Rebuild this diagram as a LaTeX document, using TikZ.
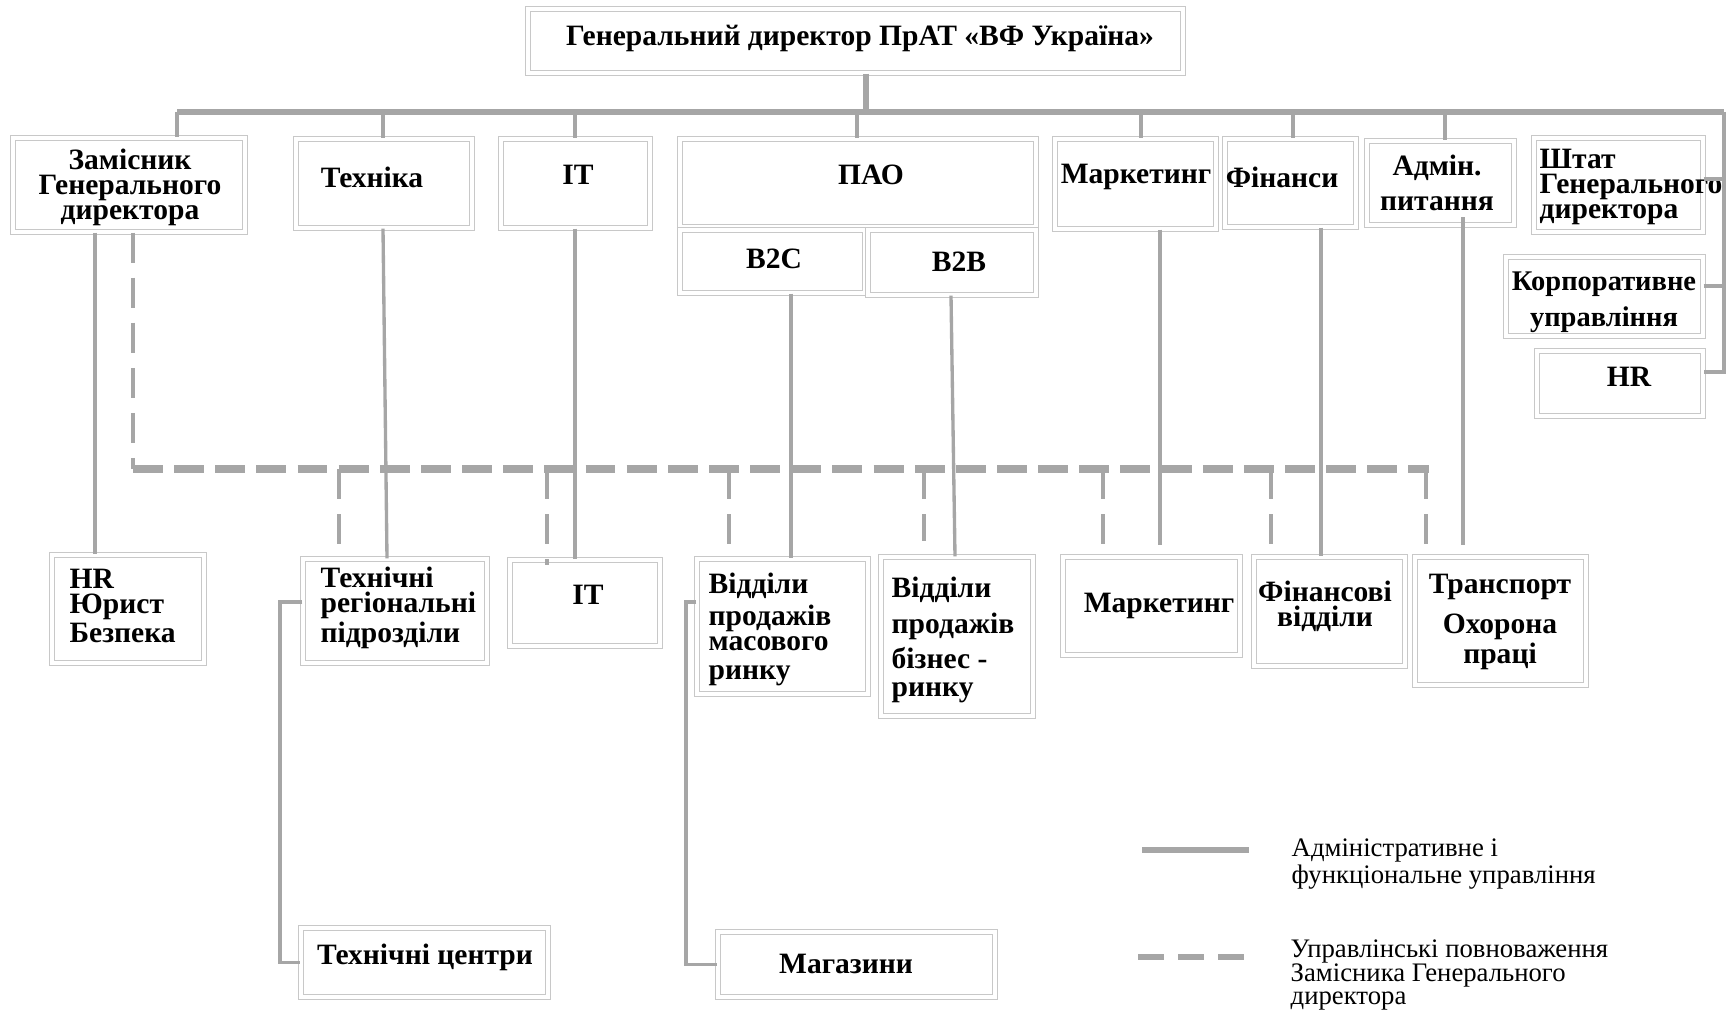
\documentclass[tikz,border=0pt]{standalone}
\usepackage{fontspec}
\setmainfont{Liberation Serif}
\usetikzlibrary{fit}

\definecolor{linegray}{HTML}{A6A6A6}
\definecolor{boxgray}{HTML}{C8C8C8}

\tikzset{
  box/.style={draw=boxgray, double=white, double distance=0.9pt, line width=0.4pt, inner sep=0pt},
  lbl/.style={font=\fontsize{8.4}{7.1}\selectfont\bfseries, inner sep=0pt, align=center},
  lbll/.style={lbl, align=left, anchor=west},
  adm/.style={draw=linegray, line width=0.95pt},
  bus/.style={draw=linegray, line width=1.6pt},
  dep/.style={draw=linegray, line width=1.1pt, dash pattern=on 8.5pt off 4.3pt},
  deptrunk/.style={draw=linegray, line width=2.2pt, dash pattern=on 8.5pt off 3.2pt},
  legtxt/.style={font=\fontsize{7.6}{6.8}\selectfont, inner sep=0pt, align=left, anchor=west}
}

\begin{document}
\begin{tikzpicture}[x=0.01cm, y=-0.01cm]
  \useasboundingbox (0,0) rectangle (1733,1011);

  % top
  \node[box, fit={(528,9) (1183,73)}] (gd) {};
  \node[lbl] (gd-t) at (860,38) {Генеральний директор ПрАТ «ВФ Україна»};

  % first row
  \node[box, fit={(13,138) (245,232)}] (zam) {};
  \node[lbl] (zam-t) at (130,187) {Замісник\\Генерального\\директора};
  \node[box, fit={(296,139) (472,228)}] (tech) {};
  \node[lbl] (tech-t) at (372,177) {Техніка};
  \node[box, fit={(501,139) (650,228)}] (it) {};
  \node[lbl] (it-t) at (578,175) {IT};
  \node[box, fit={(680,139) (1036,227)}] (pao) {};
  \node[lbl] (pao-t) at (871,175) {ПАО};
  \node[box, fit={(680,230) (865,293)}] (b2c) {};
  \node[lbl] (b2c-t) at (774,259) {B2C};
  \node[box, fit={(868,230) (1036,295)}] (b2b) {};
  \node[lbl] (b2b-t) at (959,262) {B2B};
  \node[box, fit={(1055,139) (1216,229)}] (mkt) {};
  \node[lbl] (mkt-t) at (1136,177) {Маркетинг};
  \node[box, fit={(1225,139) (1356,227)}] (fin) {};
  \node[lbl] (fin-t) at (1282,177) {Фінанси};
  \node[box, fit={(1367,141) (1514,225)}] (adm) {};
  \node[lbl] (adm-t) at (1437,183) {Адмін.\\[3pt]питання};
  \node[box, fit={(1534,138) (1703,232)}] (shtat) {};
  \node[lbll] (shtat-t) at (1539,187) {Штат\\Генерального\\директора};
  \node[box, fit={(1506,257) (1703,336)}] (corp) {};
  \node[lbl, font=\fontsize{8.1}{7.1}\selectfont\bfseries] (corp-t) at (1604,302) {Корпоративне\\[2pt]управління};
  \node[box, fit={(1537,351) (1703,416)}] (hrtop) {};
  \node[lbl] (hrtop-t) at (1629,377) {HR};

  % second row
  \node[box, fit={(52,555) (204,663)}] (hrlaw) {};
  \node[lbll] (hrlaw-t) at (69,606) {HR\\Юрист\\Безпека};
  \node[box, fit={(303,559) (487,663)}] (techreg) {};
  \node[lbll] (techreg-t) at (320,608) {Технічні\\регіональні\\підрозділи};
  \node[box, fit={(510,560) (660,646)}] (it2) {};
  \node[lbl] (it2-t) at (588,595) {IT};
  \node[box, fit={(697,559) (868,694)}] (mass) {};
  \node[lbll] (mass-t) at (708,629) {Відділи\\[1pt]продажів\\масового\\[1pt]ринку};
  \node[box, fit={(881,557) (1033,716)}] (biz) {};
  \node[lbll] (biz-t) at (891,640) {Відділи\\[2pt]продажів\\[1pt]бізнес -\\[1pt]ринку};
  \node[box, fit={(1063,557) (1240,655)}] (mkt2) {};
  \node[lbl] (mkt2-t) at (1159,606) {Маркетинг};
  \node[box, fit={(1254,557) (1405,666)}] (fin2) {};
  \node[lbl] (fin2-t) at (1325,606) {Фінансові\\відділи};
  \node[box, fit={(1415,557) (1586,685)}] (trans) {};
  \node[lbl] (trans-t) at (1500,622) {Транспорт\\[3pt]Охорона\\праці};

  % third row
  \node[box, fit={(301,928) (548,997)}] (techc) {};
  \node[lbl] (techc-t) at (425,957) {Технічні центри};
  \node[box, fit={(718,932) (995,997)}] (shops) {};
  \node[lbl] (shops-t) at (846,964) {Магазини};

  % administrative lines
  \coordinate (busL) at (177,112);
  \coordinate (busR) at (1724,112);
  \draw[bus] (busL) -- (busR);
  \draw[bus] (866,0 |- gd.south) -- (866,0 |- busL);
  \draw[adm] (busL) -- (177,0 |- zam.north);
  \draw[adm] (383,0 |- busL) -- (383,0 |- tech.north);
  \draw[adm] (575,0 |- busL) -- (575,0 |- it.north);
  \draw[adm] (857,0 |- busL) -- (857,0 |- pao.north);
  \draw[adm] (1141,0 |- busL) -- (1141,0 |- mkt.north);
  \draw[adm] (1293,0 |- busL) -- (1293,0 |- fin.north);
  \draw[adm] (1445,0 |- busL) -- (1445,0 |- adm.north);
  \draw[adm] (busR) -- (1724,372) -- (hrtop.east |- 1724,372);
  \draw[adm] (shtat.east |- 1724,179) -- (1724,179);
  \draw[adm] (corp.east |- 1724,286) -- (1724,286);

  \draw[adm] (95,0 |- zam.south) -- (95,0 |- hrlaw.north);
  \draw[adm] (383,0 |- tech.south) -- (387,0 |- techreg.north);
  \draw[adm] (575,0 |- it.south) -- (575,0 |- it2.north);
  \draw[adm] (791,0 |- b2c.south) -- (791,0 |- mass.north);
  \draw[adm] (951,0 |- b2b.south) -- (955,0 |- biz.north);
  \draw[adm] (1160,0 |- mkt.south) -- (1160,545);
  \draw[adm] (1321,0 |- fin.south) -- (1321,0 |- fin2.north);
  \draw[adm] (1463,217) -- (1463,545);

  \draw[adm] (techreg.west |- 0,602) -- (280,602) -- (280,0 |- techc.west) -- (techc.west);
  \draw[adm] (mass.west |- 0,602) -- (686,602) -- (686,0 |- shops.west) -- (shops.west);

  % deputy lines
  \coordinate (dL) at (133,469);
  \coordinate (dR) at (1429,469);
  \draw[dep, line width=1.4pt] (133,0 |- zam.south) -- (dL);
  \draw[deptrunk] (dL) -- (dR);
  \draw[dep] (339,0 |- dL) -- (339,0 |- techreg.north);
  \draw[dep] (547,0 |- dL) -- (547,565);
  \draw[dep] (729,0 |- dL) -- (729,0 |- mass.north);
  \draw[dep] (924,0 |- dL) -- (924,541);
  \draw[dep] (1103,0 |- dL) -- (1103,0 |- mkt2.north);
  \draw[dep] (1271,0 |- dL) -- (1271,0 |- fin2.north);
  \draw[dep] (1426,0 |- dL) -- (1426,0 |- trans.north);

  % legend
  \coordinate (lg1a) at (1142,850);
  \coordinate (lg1b) at (1249,850);
  \coordinate (lg2a) at (1138,957);
  \coordinate (lg2b) at (1246,957);
  \draw[adm, line width=1.6pt] (lg1a) -- (lg1b);
  \draw[adm, line width=1.6pt, dash pattern=on 7.4pt off 4pt] (lg2a) -- (lg2b);
  \node[legtxt] (lg1-t) at (1291,864) {Адміністративне і\\функціональне управління};
  \node[legtxt] (lg2-t) at (1290,975) {Управлінські повноваження\\Замісника Генерального\\директора};
\end{tikzpicture}
\end{document}
